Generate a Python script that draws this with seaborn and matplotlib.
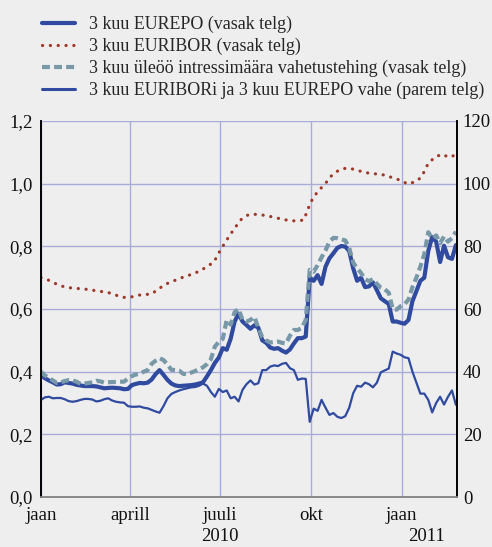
import pandas as pd
import numpy as np
import matplotlib.pyplot as plt
import matplotlib.dates as mdates
from matplotlib.lines import Line2D
import seaborn as sns

# Style
sns.set_theme(style="white")
plt.rcParams["font.family"] = ["Liberation Serif", "DejaVu Serif"]

# ----------------------------------------------------------
# Data
# ----------------------------------------------------------
euribor_dates = pd.date_range("2010-01-01", "2011-02-25", freq="7D")
euribor = [
    0.700, 0.693, 0.682, 0.673, 0.668, 0.666, 0.664, 0.662, 0.658, 0.655,
    0.651, 0.643, 0.637, 0.638, 0.644, 0.646, 0.648, 0.664, 0.679, 0.688,
    0.697, 0.705, 0.712, 0.722, 0.735, 0.750, 0.790, 0.825, 0.858, 0.887,
    0.901, 0.902, 0.900, 0.896, 0.891, 0.886, 0.882, 0.881, 0.884, 0.941,
    0.975, 0.997, 1.025, 1.042, 1.049, 1.047, 1.041, 1.035, 1.032, 1.030,
    1.026, 1.017, 1.011, 0.999, 1.005, 1.020, 1.065, 1.085, 1.094, 1.084,
    1.092,
]

dates = pd.date_range("2010-01-01", "2011-02-25", freq="4D")
eurepo = [
    0.389, 0.379, 0.372, 0.366, 0.359, 0.360, 0.366, 0.364, 0.362, 0.358,
    0.356, 0.354, 0.354, 0.354, 0.353, 0.350, 0.347, 0.348, 0.349, 0.348,
    0.347, 0.344, 0.345, 0.357, 0.361, 0.364, 0.363, 0.365, 0.375, 0.392,
    0.405, 0.390, 0.374, 0.362, 0.356, 0.354, 0.355, 0.356, 0.357, 0.359,
    0.362, 0.366, 0.385, 0.405, 0.428, 0.445, 0.475, 0.470, 0.505, 0.560,
    0.585, 0.560, 0.549, 0.537, 0.548, 0.540, 0.500, 0.492, 0.477, 0.473,
    0.475, 0.467, 0.461, 0.471, 0.490, 0.507, 0.507, 0.512, 0.700, 0.690,
    0.708, 0.680, 0.735, 0.762, 0.778, 0.795, 0.801, 0.799, 0.785, 0.730,
    0.690, 0.700, 0.670, 0.672, 0.685, 0.660, 0.634, 0.625, 0.616, 0.560,
    0.560, 0.556, 0.553, 0.565, 0.625, 0.657, 0.690, 0.700, 0.785, 0.830,
    0.815, 0.750, 0.802, 0.765, 0.760, 0.804,
]
ois_swap = [
    0.400, 0.388, 0.380, 0.372, 0.364, 0.366, 0.370, 0.373, 0.372, 0.368,
    0.361, 0.362, 0.364, 0.366, 0.371, 0.369, 0.365, 0.366, 0.367, 0.367,
    0.368, 0.368, 0.378, 0.386, 0.391, 0.393, 0.400, 0.405, 0.425, 0.435,
    0.443, 0.437, 0.423, 0.406, 0.405, 0.403, 0.393, 0.392, 0.397, 0.402,
    0.408, 0.414, 0.424, 0.440, 0.480, 0.495, 0.505, 0.565, 0.550, 0.590,
    0.600, 0.565, 0.560, 0.565, 0.575, 0.540, 0.510, 0.500, 0.493, 0.495,
    0.496, 0.492, 0.490, 0.515, 0.533, 0.533, 0.540, 0.565, 0.725, 0.719,
    0.740, 0.765, 0.787, 0.815, 0.827, 0.826, 0.822, 0.819, 0.795, 0.748,
    0.730, 0.715, 0.695, 0.689, 0.695, 0.680, 0.668, 0.663, 0.652, 0.600,
    0.598, 0.609, 0.615, 0.630, 0.670, 0.700, 0.735, 0.775, 0.845, 0.825,
    0.835, 0.810, 0.832, 0.815, 0.826, 0.847,
]
spread = [
    31.0, 31.8, 32.0, 31.5, 31.6, 31.6, 31.2, 30.6, 30.4, 30.6,
    31.0, 31.3, 31.3, 31.1, 30.5, 30.7, 31.2, 31.5, 30.8, 30.4,
    30.2, 30.1, 29.0, 28.8, 28.8, 28.9, 28.5, 28.3, 27.8, 27.3,
    26.9, 29.0, 31.5, 32.9, 33.5, 34.0, 34.4, 34.7, 35.0, 35.1,
    35.5, 36.2, 35.5, 33.5, 32.0, 34.5, 33.5, 34.0, 31.5, 32.0,
    30.5, 34.2, 36.0, 37.2, 35.9, 36.3, 40.5, 40.5, 41.6, 42.0,
    41.8, 42.5, 42.8, 41.1, 40.5, 37.4, 37.8, 37.7, 24.0, 28.2,
    27.5, 31.0, 28.5, 26.2, 26.8, 25.6, 25.2, 25.8, 28.5, 33.1,
    35.5, 35.2, 36.5, 36.0, 35.0, 36.5, 39.8, 40.4, 41.0, 46.4,
    45.8, 45.4, 44.6, 44.3, 40.0, 36.5, 33.0, 33.0, 31.0, 27.0,
    30.0, 32.0, 29.5, 32.0, 34.0, 29.4,
]

labels = [
    "3 kuu EUREPO (vasak telg)",
    "3 kuu EURIBOR (vasak telg)",
    "3 kuu üleöö intressimäära vahetustehing (vasak telg)",
    "3 kuu EURIBORi ja 3 kuu EUREPO vahe (parem telg)",
]
left_ticks = [0.0, 0.2, 0.4, 0.6, 0.8, 1.0, 1.2]
left_ticklabels = ["0,0", "0,2", "0,4", "0,6", "0,8", "1,0", "1,2"]
right_ticks = [0, 20, 40, 60, 80, 100, 120]
month_ticks = pd.to_datetime(["2010-01-01", "2010-04-01", "2010-07-01",
                              "2010-10-01", "2011-01-01"])
month_labels = ["jaan", "aprill", "juuli", "okt", "jaan"]

df = pd.DataFrame({"date": dates, "eurepo": eurepo,
                   "ois": ois_swap, "spread": spread})
df_eb = pd.DataFrame({"date": euribor_dates, "euribor": euribor})

# Colours
BG = "#eeeeee"
BLUE = "#2f4a9f"
RED = "#a0382a"
TEAL = "#7898a8"
GRID = "#a8acd8"

# ----------------------------------------------------------
# Figure
# ----------------------------------------------------------
fig = plt.figure(figsize=(4.92, 5.47), dpi=100, facecolor=BG)
ax = fig.add_axes([0.0833, 0.0914, 0.8462, 0.6874], facecolor=BG)
ax2 = ax.twinx()

sns.lineplot(data=df, x="date", y="spread", ax=ax2, color=BLUE, lw=1.6)
sns.lineplot(data=df, x="date", y="eurepo", ax=ax, color=BLUE, lw=3.0)
sns.lineplot(data=df, x="date", y="ois", ax=ax, color=TEAL, lw=3.0,
             linestyle=(0, (1.9, 1.0)))
sns.lineplot(data=df_eb, x="date", y="euribor", ax=ax, color=RED, lw=2.3,
             linestyle=(0, (0.05, 2.4)), dash_capstyle="round")

xmin = pd.Timestamp("2010-01-01")
xmax = pd.Timestamp("2011-02-26 10:00")
ax.set_xlim(xmin, xmax)
ax.set_ylim(0, 1.2)
ax2.set_ylim(0, 120)

ax.set_yticks(left_ticks)
ax.set_yticklabels(left_ticklabels)
ax2.set_yticks(right_ticks)
ax2.set_yticklabels([str(t) for t in right_ticks])
ax.set_xticks(month_ticks)
ax.set_xticklabels(month_labels)

ax.set_xlabel("")
ax.set_ylabel("")
ax2.set_ylabel("")

ax.grid(True, color=GRID, lw=1.0)
ax.set_axisbelow(True)
ax2.grid(False)

for a in (ax, ax2):
    a.spines["top"].set_visible(False)
    a.spines["left"].set_color("black")
    a.spines["right"].set_color("black")
    a.spines["bottom"].set_color("#8a8a8a")
    a.spines["left"].set_linewidth(1.2)
    a.spines["right"].set_linewidth(1.2)

ax.tick_params(axis="y", length=0, pad=6, labelsize=13.5, colors="#111111")
ax2.tick_params(axis="y", length=0, pad=4, labelsize=13.5, colors="#111111")
ax.tick_params(axis="x", direction="out", length=4, width=1.5, color="black",
               pad=3, labelsize=13.5, labelcolor="#111111")

# Year labels below the month labels
trans = ax.get_xaxis_transform()
ax.text(pd.Timestamp("2010-07-01"), -0.104, "2010", transform=trans,
        ha="center", va="center", fontsize=13.5, color="#111111")
ax.text(pd.Timestamp("2011-01-26"), -0.104, "2011", transform=trans,
        ha="center", va="center", fontsize=13.5, color="#111111")

# Legend
handles = [
    Line2D([], [], color=BLUE, lw=3.0),
    Line2D([], [], color=RED, lw=2.3, linestyle=(0, (0.05, 2.4)),
           dash_capstyle="round"),
    Line2D([], [], color=TEAL, lw=3.0, linestyle=(0, (1.9, 1.0))),
    Line2D([], [], color=BLUE, lw=2.2),
]
fig.legend(handles, labels, loc="upper left", bbox_to_anchor=(0.07, 0.984),
           frameon=False, fontsize=12.9, handlelength=1.85, handletextpad=0.8,
           labelspacing=0.26, borderaxespad=0)

plt.savefig("out.png", dpi=100, facecolor=BG)
